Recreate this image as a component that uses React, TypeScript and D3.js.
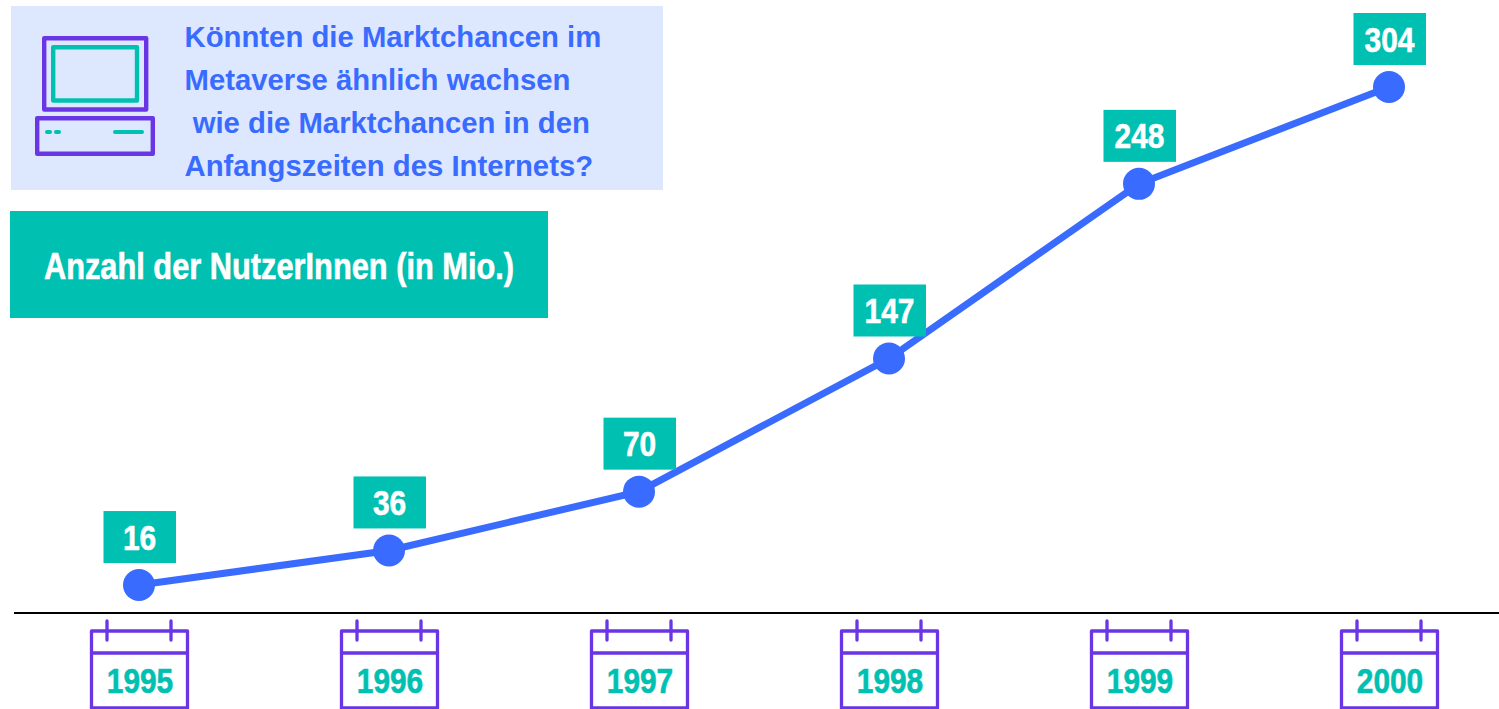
import React from "react";
import * as d3 from "d3";

const years = ["1995", "1996", "1997", "1998", "1999", "2000"];
const users = [16, 36, 70, 147, 248, 304];
const questionLines = [
  "Könnten die Marktchancen im",
  "Metaverse ähnlich wachsen",
  " wie die Marktchancen in den",
  "Anfangszeiten des Internets?",
];
const chartTitle = "Anzahl der NutzerInnen (in Mio.)";

const width = 1499;
const height = 709;
const blue = "#3A6BFF";
const teal = "#00C0B2";
const purple = "#6A35E5";
const panel = "#DDE8FF";
const sans = "'Liberation Sans', Arial, sans-serif";

const x = d3.scalePoint<string>().domain(years).range([139, 1389]);
const y = d3.scaleLinear().domain([0, 304]).range([612.7, 87]);

const line = d3
  .line<number>()
  .x((_, i) => x(years[i]) as number)
  .y((d) => y(d));

// no narrow font installed, so squeeze the regular bold one and thicken it a bit
function NarrowText({ cx, base, squeeze, fill, children }: any) {
  return (
    <text
      transform={`translate(${cx},${base}) scale(${squeeze},1)`}
      textAnchor="middle"
      fontFamily={sans}
      fontWeight={700}
      fontSize={36}
      fill={fill}
      stroke={fill}
      strokeWidth={0.6}
    >
      {children}
    </text>
  );
}

function Computer() {
  return (
    <g fill="none" strokeLinejoin="round" strokeLinecap="round">
      <rect x={44.2} y={38.2} width={102} height={71.3} stroke={purple} strokeWidth={4.4} />
      <rect x={53.2} y={47.2} width={83.8} height={53.3} stroke={teal} strokeWidth={4.4} />
      <rect x={37.2} y={118.2} width={115.6} height={35.6} stroke={purple} strokeWidth={4.4} />
      <path d="M47 132H50M56 132H59M115 132H142" stroke={teal} strokeWidth={4} />
    </g>
  );
}

function Calendar({ year }: { year: string }) {
  const cx = x(year) as number;
  return (
    <g>
      <g fill="none" stroke={purple} strokeWidth={3.3} strokeLinecap="round" strokeLinejoin="round">
        <path d={`M${cx - 47.5} 708V631H${cx + 48.5}V708`} />
        <path d={`M${cx - 47.5} 708H${cx + 48.5}`} />
        <path d={`M${cx - 47.5} 653H${cx + 48.5}`} />
        <path d={`M${cx - 32} 621V640M${cx + 32} 621V640`} />
      </g>
      <NarrowText cx={cx + 1} base={693} squeeze={0.83} fill={teal}>
        {year}
      </NarrowText>
    </g>
  );
}

export default function App() {
  return (
    <svg
      width={width}
      height={height}
      viewBox={`0 0 ${width} ${height}`}
      style={{ position: "fixed", left: 0, top: 0, background: "#fff" }}
    >
      <rect x={11} y={6} width={652} height={184} fill={panel} />
      <Computer />
      <g fontFamily={sans} fontWeight={700} fontSize={29.3} fill={blue}>
        {questionLines.map((t, i) => (
          <text key={i} x={184.5} y={46.6 + i * 43} style={{ whiteSpace: "pre" }}>
            {t}
          </text>
        ))}
      </g>

      <rect x={10} y={211} width={538} height={107} fill={teal} />
      <NarrowText cx={279} base={279} squeeze={0.855} fill="#fff">
        {chartTitle}
      </NarrowText>

      <line x1={14} x2={1499} y1={613} y2={613} stroke="#000" strokeWidth={2} />

      <path d={line(users) ?? ""} fill="none" stroke={blue} strokeWidth={7} />
      {users.map((v, i) => {
        const cx = x(years[i]) as number;
        const cy = y(v);
        return (
          <g key={years[i]}>
            <circle cx={cx} cy={cy} r={16} fill={blue} />
            <rect x={cx - 35.5} y={cy - 74} width={72.5} height={52} fill={teal} />
            <NarrowText cx={cx + 0.5} base={cy - 35.5} squeeze={0.83} fill="#fff">
              {v}
            </NarrowText>
          </g>
        );
      })}

      {years.map((yr) => (
        <Calendar key={yr} year={yr} />
      ))}
    </svg>
  );
}
